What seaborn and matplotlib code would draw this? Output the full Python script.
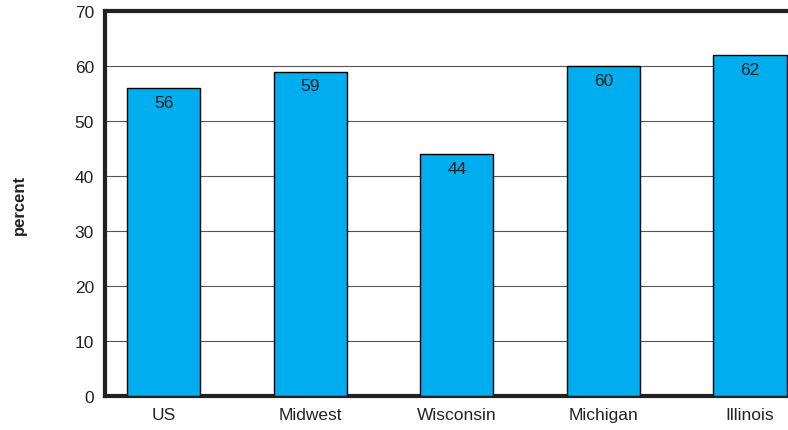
import matplotlib
matplotlib.use("Agg")
import matplotlib.pyplot as plt
import seaborn as sns
import pandas as pd

regions = ["US", "Midwest", "Wisconsin", "Michigan", "Illinois"]
percent = [56, 59, 44, 60, 62]
y_ticks = [0, 10, 20, 30, 40, 50, 60, 70]

sns.set_theme(style="white")
plt.rcParams["font.family"] = ["Liberation Sans", "DejaVu Sans"]

df = pd.DataFrame({"region": regions, "percent": percent})

fig = plt.figure(figsize=(7.88, 4.31), dpi=100)
ax = fig.add_axes([105 / 788, 34 / 431, 1 - 105 / 788, 385 / 431])

sns.barplot(data=df, x="region", y="percent", color="#00AEEF", width=0.5,
            edgecolor="black", linewidth=1.0, saturation=1, ax=ax, zorder=3)

ax.set_ylim(0, 70)
ax.set_xlim(-0.4, 4.26)
ax.set_yticks(y_ticks)
ax.yaxis.grid(True, color="#555555", linewidth=0.8, zorder=0)
ax.set_axisbelow(True)

for side in ["top", "left", "bottom"]:
    ax.spines[side].set_linewidth(3)
    ax.spines[side].set_color("#222222")
ax.spines["right"].set_visible(False)

ax.tick_params(axis="y", labelsize=12.5, labelcolor="#222222", length=3,
               direction="in", pad=8)
ax.tick_params(axis="x", labelsize=12.5, labelcolor="#222222", length=0, pad=8)

ax.set_xlabel("")
ax.set_ylabel("percent", fontsize=12, fontweight="bold", color="#222222")
ax.yaxis.set_label_coords(-78 / 683, 0.5)

for i, v in enumerate(percent):
    ax.text(i, v - 1.2, f"{v}", ha="center", va="top", fontsize=12.5,
            color="#222222", zorder=4)

fig.savefig("out.png", dpi=100)
